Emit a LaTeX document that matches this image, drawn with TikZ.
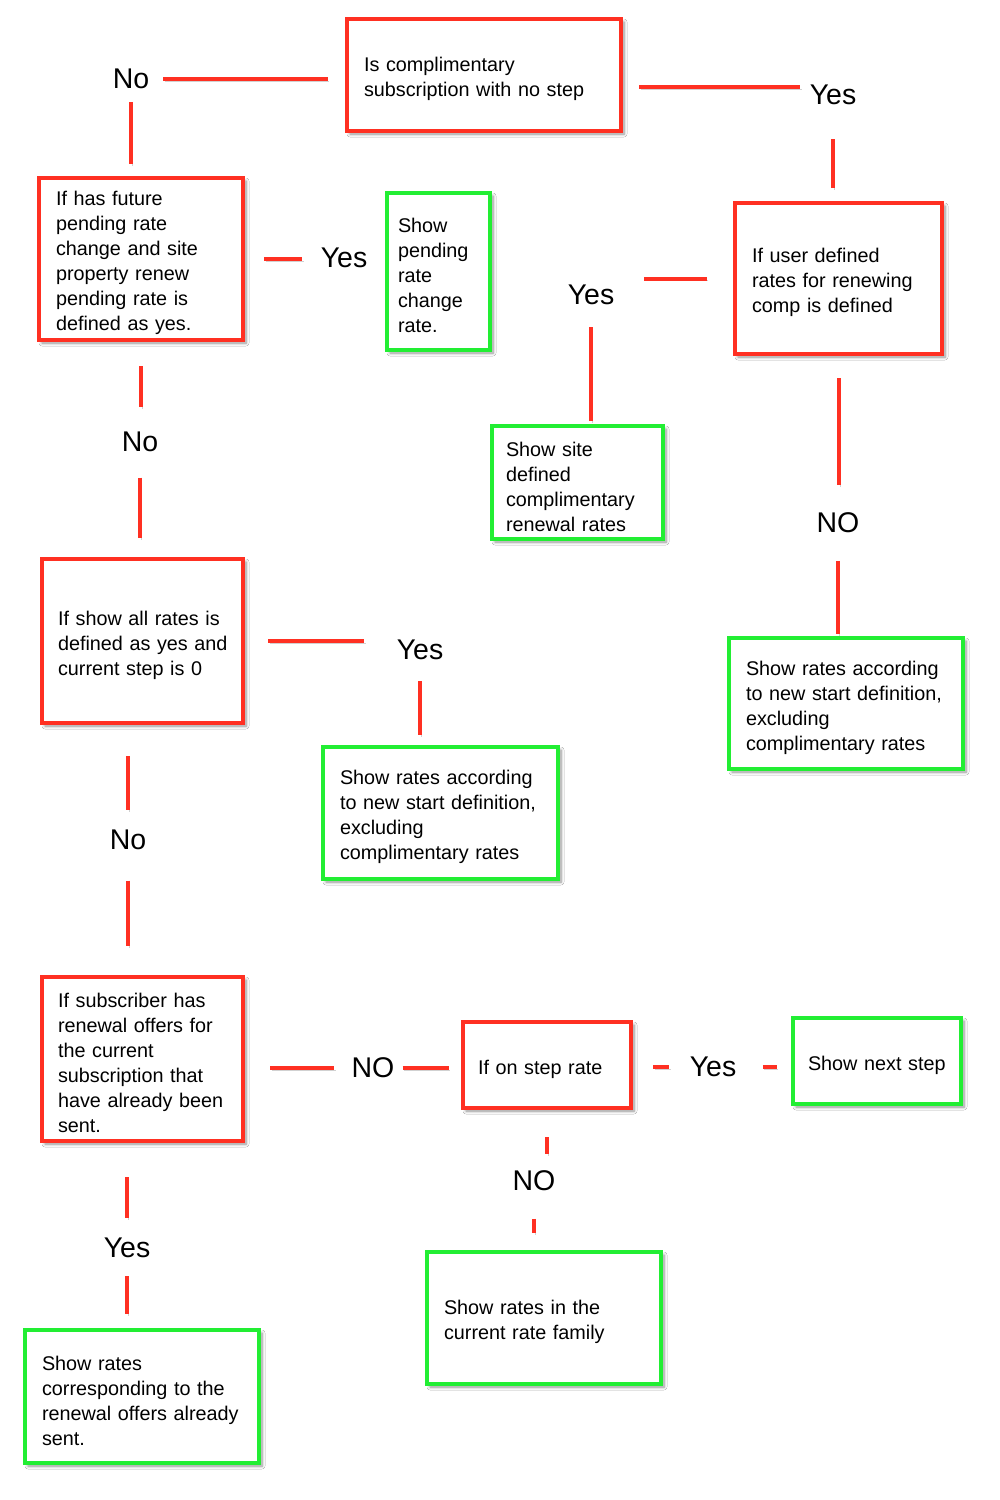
\documentclass[tikz,border=0pt]{standalone}
\usepackage{fontspec}
\setmainfont{Liberation Sans}
\usetikzlibrary{shadows.blur}
\definecolor{condred}{RGB}{255,48,34}
\definecolor{showgreen}{RGB}{34,238,51}
\begin{document}
\begin{tikzpicture}[x=1pt,y=-1pt,
    box/.style={draw,fill=white,line width=4.5pt,inner xsep=17pt,inner ysep=0pt,align=left,text height=22.4pt,
        font=\fontsize{19.8}{25}\selectfont,
        blur shadow={shadow xshift=3pt,shadow yshift=-3pt,shadow blur radius=3pt,shadow blur steps=6,shadow opacity=45}},
    cond/.style={box,draw=condred},
    result/.style={box,draw=showgreen},
    answer/.style={inner sep=0pt,font=\fontsize{28.5}{30}\selectfont},
    link/.style={draw=condred,line width=4pt,
        preaction={draw=black!18,transform canvas={shift={(1.5pt,-2pt)}}}}]
                \fill[white] (0,0) rectangle (1000,1500);
                \useasboundingbox (0,0) rectangle (1000,1500);
                \node[cond,minimum width=274pt,minimum height=112pt,text width=240pt] (q1) at (484,75) {Is complimentary\\subscription with no step};
                \node[cond,minimum width=204pt,minimum height=162pt,text width=170pt] (q2) at (141,259) {If has future\\pending rate\\change and site\\property renew\\pending rate is\\defined as yes.};
                \node[result,inner xsep=11pt,minimum width=103pt,minimum height=157pt,text width=81pt] (r1) at (438.5,271.5) {Show\\pending\\rate\\change\\rate.};
                \node[cond,minimum width=207pt,minimum height=151pt,text width=173pt] (q3) at (838.5,278.5) {If user defined\\rates for renewing\\comp is defined};
                \node[result,inner xsep=14pt,minimum width=171pt,minimum height=113pt,text width=143pt] (r2) at (577.5,482.5) {Show site\\defined\\complimentary\\renewal rates};
                \node[result,minimum width=234pt,minimum height=131pt,text width=200pt] (r3) at (846,703.5) {Show rates according\\to new start definition,\\excluding\\complimentary rates};
                \node[cond,inner xsep=16pt,minimum width=201pt,minimum height=164pt,text width=169pt] (q4) at (142.5,641) {If show all rates is\\\mbox{defined as yes and}\\current step is 0};
                \node[result,minimum width=235pt,minimum height=132pt,text width=201pt] (r4) at (440.5,813) {Show rates according\\to new start definition,\\excluding\\complimentary rates};
                \node[cond,inner xsep=16pt,minimum width=201pt,minimum height=164pt,text width=169pt] (q5) at (142.5,1059) {If subscriber has\\renewal offers for\\the current\\subscription that\\\mbox{have already been}\\sent.};
                \node[cond,inner xsep=15pt,minimum width=168pt,minimum height=86pt,text width=138pt] (q6) at (547,1065) {If on step rate};
                \node[result,inner xsep=15pt,minimum width=168pt,minimum height=86pt,text width=138pt] (r5) at (877,1061) {\mbox{Show next step}};
                \node[result,minimum width=234pt,minimum height=132pt,text width=200pt] (r6) at (544,1318) {Show rates in the\\current rate family};
                \node[result,minimum width=234pt,minimum height=133pt,text width=200pt] (r7) at (142,1396.5) {Show rates\\corresponding to the\\renewal offers already\\sent.};
                \node[answer] (no1) at (131,79) {No};
                \node[answer] (yes1) at (833,95) {Yes};
                \node[answer] (yes2) at (344,258) {Yes};
                \node[answer] (yes3) at (591,295) {Yes};
                \node[answer] (no2) at (140,442) {No};
                \node[answer] (no3) at (838,523) {NO};
                \node[answer] (yes4) at (420,650) {Yes};
                \node[answer] (no4) at (128,840) {No};
                \node[answer] (no5) at (373,1068) {NO};
                \node[answer] (yes5) at (713,1067) {Yes};
                \node[answer] (no6) at (534,1181) {NO};
                \node[answer] (yes6) at (127,1248) {Yes};
                \draw[link,shorten <=14pt,shorten >=17pt] (no1.east) -- (no1 -| q1.west);
                \draw[link,shorten <=16pt,shorten >=9.5pt] ([yshift=-12pt]q1.east) -- ([yshift=-12pt]q1.east -| yes1.west);
                \draw[link,shorten <=13pt,shorten >=12pt] (no1.south) -- (no1 |- q2.north);
                \draw[link,shorten <=34pt,shorten >=13pt] (yes1.south) -- (yes1 |- q3.north);
                \draw[link,shorten <=19pt,shorten >=18.5pt] (q2.east) -- (q2.east -| yes2.west);
                \draw[link,shorten <=26pt,shorten >=30pt] (q3.west) -- (q3.west -| yes3.east);
                \draw[link,shorten <=22pt,shorten >=3pt] (yes3.south) -- (yes3 |- r2.north);
                \draw[link,shorten <=24pt,shorten >=24.5pt] (q2.south) -- (q2.south |- no2.north);
                \draw[link,shorten <=25.5pt,shorten >=19pt] (no2.south) -- (no2 |- q4.north);
                \draw[link,shorten <=22pt,shorten >=27.5pt] (q3.south) -- (q3.south |- no3.north);
                \draw[link,shorten <=27.5pt,shorten >=2pt] (no3.south) -- (no3 |- r3.north);
                \draw[link,shorten <=23pt,shorten >=32.5pt] (q4.east) -- (q4.east -| yes4.west);
                \draw[link,shorten <=21pt,shorten >=10pt] (yes4.south) -- (yes4 |- r4.north);
                \draw[link,shorten <=31pt,shorten >=19.5pt] (no4 |- q4.south) -- (no4.north);
                \draw[link,shorten <=30.5pt,shorten >=29pt] (no4.south) -- (no4 |- q5.north);
                \draw[link,shorten <=25pt,shorten >=17pt] (no5.west -| q5.east) -- (no5.west);
                \draw[link,shorten <=8pt,shorten >=12pt] (no5.east) -- (no5 -| q6.west);
                \draw[link,shorten <=20pt,shorten >=20.5pt] (yes5.west -| q6.east) -- (yes5.west);
                \draw[link,shorten <=26.5pt,shorten >=14pt] (yes5.east) -- (yes5 -| r5.west);
                \draw[link,shorten <=27pt,shorten >=16.5pt] (q6.south) -- (q6.south |- no6.north);
                \draw[link,shorten <=27.5pt,shorten >=17pt] (no6.south) -- (no6 |- r6.north);
                \draw[link,shorten <=34pt,shorten >=19.8pt] (yes6 |- q5.south) -- (yes6.north);
                \draw[link,shorten <=18pt,shorten >=14pt] (yes6.south) -- (yes6 |- r7.north);
            \end{tikzpicture}
\end{document}
